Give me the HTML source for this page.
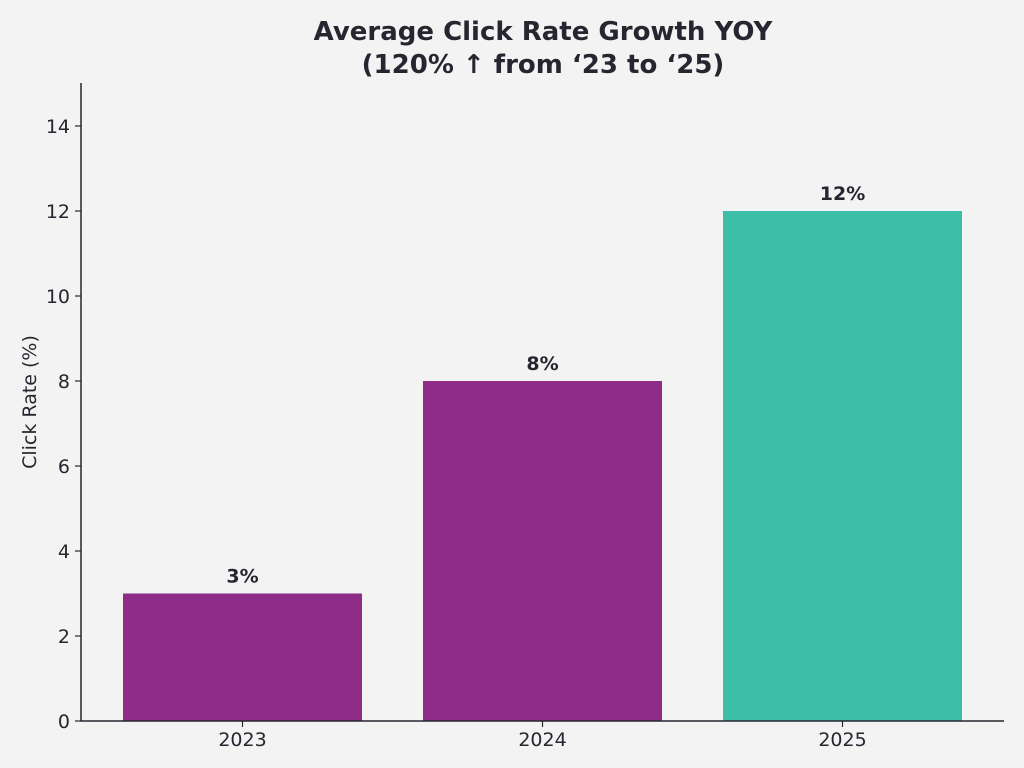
<!DOCTYPE html>
<html><head><meta charset="utf-8"><style>
html,body{margin:0;padding:0;background:#f3f3f3;}
svg{display:block;font-family:"DejaVu Sans","Liberation Sans",sans-serif;}
</style></head><body>
<svg id="chart" width="1024" height="768" viewBox="0 0 1024 768">
<rect width="1024" height="768" fill="#f3f3f3"/>
<text x="543" y="40" text-anchor="middle" font-size="26" font-weight="bold" fill="#262630">Average Click Rate Growth YOY</text>
<text x="543" y="73" text-anchor="middle" font-size="26" font-weight="bold" fill="#262630">(120% ↑ from ‘23 to ‘25)</text>
<text transform="translate(36,402) rotate(-90)" text-anchor="middle" font-size="19" fill="#262630">Click Rate (%)</text>
<g id="marks"></g>
<line x1="81" y1="83" x2="81" y2="721.5" stroke="#262630" stroke-width="1.5"/>
<line x1="80.3" y1="721" x2="1004" y2="721" stroke="#262630" stroke-width="1.5"/>
</svg>
<script>
const categories = ["2023", "2024", "2025"];
const values = [3, 8, 12];
const valueLabels = ["3%", "8%", "12%"];
const barColors = ["#8e2c88", "#8e2c88", "#3dbea6"];
const yTicks = [0, 2, 4, 6, 8, 10, 12, 14];

const NS = "http://www.w3.org/2000/svg";
const g = document.getElementById("marks");
const y0 = 721, yUnit = 42.5;
function yScale(v){ return y0 - v * yUnit; }
function xScale(i){ return 242.5 + i * 300; }
const barW = 239;
function mk(tag, attrs){ const e = document.createElementNS(NS, tag); for (const k in attrs) e.setAttribute(k, attrs[k]); g.appendChild(e); return e; }

yTicks.forEach(t => {
  const y = yScale(t);
  const l = mk("line", {x1: 75, x2: 81, y1: y, y2: y, stroke: "#262630", "stroke-width": 1.2});
  
  
  const tx = mk("text", {x: 70, y: y + 7, "text-anchor": "end", "font-size": 19, fill: "#262630"});
  tx.textContent = t;
  
  
});

categories.forEach((c, i) => {
  const cx = xScale(i), top = yScale(values[i]);
  const r = mk("rect", {x: cx - barW / 2, y: top, width: barW, height: y0 - top, fill: barColors[i]});
  
  
  const lb = mk("text", {x: cx, y: top - 11, "text-anchor": "middle", "font-size": 19, "font-weight": "bold", fill: "#262630"});
  lb.textContent = valueLabels[i];
  
  
  const tk = mk("line", {x1: cx, x2: cx, y1: 721, y2: 727, stroke: "#262630", "stroke-width": 1.2});
  
  
  const xl = mk("text", {x: cx, y: 746, "text-anchor": "middle", "font-size": 19, fill: "#262630"});
  xl.textContent = c;
  
  
});
</script>
</body></html>
